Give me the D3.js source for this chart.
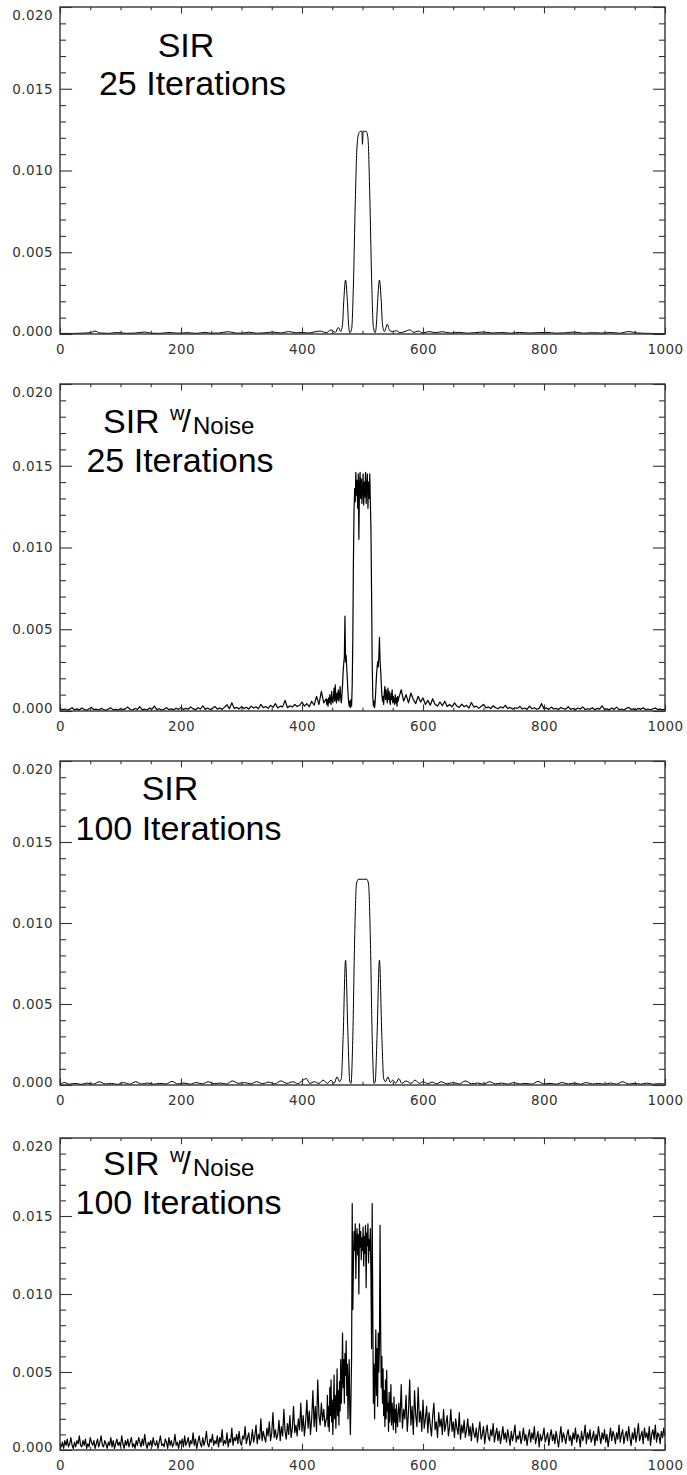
<!DOCTYPE html>
<html><head><meta charset="utf-8">
<script src="https://cdn.jsdelivr.net/npm/d3@7"></script>
<style>
html,body{margin:0;padding:0;background:#fff;}
svg{display:block;background:#fff;}
.tick text{font-family:"DejaVu Sans",sans-serif;font-size:13.5px;fill:#333;letter-spacing:0.4px;}
.title{font-family:"Liberation Sans",Arial,sans-serif;fill:#000;}
</style></head><body>
<svg id="chart" width="687" height="1475"></svg>
<script>
// ---------- data ----------
const Y_UNIT = 1e-4; // all series values below are given in units of 1e-4
const xTicks = [0, 200, 400, 600, 800, 1000];
const yTicks = [0.000, 0.005, 0.010, 0.015, 0.020];
const xMinorStep = 50;
const yMinorStep = 0.001;

// Panel 1: SIR, 25 iterations  ([x, value])
const sir25 = [[0,0.3],[10,0.4],[20,0.3],[35,0.5],[50,0.8],[58,1.8],[66,0.6],[80,0.4],[95,0.9],[110,0.4],[125,0.6],[140,1.2],[150,0.5],[165,0.4],[180,0.9],[195,0.5],[210,0.8],[225,0.4],[240,1.0],[250,0.5],[262,0.6],[278,1.4],[290,0.6],[300,0.5],[312,1.1],[325,0.5],[340,0.8],[352,1.2],[365,0.6],[378,1.5],[390,0.7],[400,1.0],[410,0.6],[420,1.2],[430,1.8],[440,0.8],[448,2.5],[455,1.0],[460,4],[464,1.5],[467,6],[469,20],[472,33],[475,20],[477,6],[479,0.8],[482,3],[485,30],[488,80],[491,115],[494,123],[497,124],[499,124],[500,116],[501,124],[503,124],[506,124],[509,120],[512,85],[515,35],[518,4],[521,0.8],[523,6],[525,20],[528,33],[531,20],[533,6],[536,1.5],[538,3],[541,6],[545,2],[550,1.5],[556,2],[562,0.8],[570,1.5],[578,2.5],[585,1.0],[592,1.8],[600,0.7],[610,1.5],[620,0.8],[632,1.4],[645,0.6],[660,1.0],[672,0.5],[685,0.8],[700,1.2],[715,0.6],[730,0.9],[745,0.5],[760,1.0],[775,0.6],[790,0.8],[805,1.0],[820,0.5],[835,0.7],[850,1.2],[865,0.5],[880,0.8],[895,0.6],[910,0.9],[925,0.5],[940,1.5],[955,0.6],[970,0.4],[985,0.3],[1000,0.3]];

// Panel 3: SIR, 100 iterations  ([x, value])
const sir100 = [[0,0.5],[8,1.5],[15,0.5],[25,1.0],[35,0.4],[45,1.2],[55,0.5],[65,2.0],[75,0.6],[85,1.0],[95,0.4],[105,1.5],[115,0.5],[125,2.0],[135,0.6],[145,1.2],[155,0.5],[165,1.0],[175,0.6],[185,2.2],[195,0.6],[205,1.2],[215,0.5],[225,1.5],[235,0.7],[245,2.0],[255,0.8],[265,1.2],[275,0.6],[285,2.5],[295,1.0],[305,1.5],[315,0.7],[325,2.0],[335,0.8],[345,1.8],[355,0.7],[365,2.5],[375,1.0],[385,2.0],[393,0.8],[400,2.5],[407,4.0],[413,1.0],[420,2.0],[428,1.0],[435,3.0],[442,1.0],[448,3.0],[453,1.0],[458,5.0],[462,2.0],[465,4],[468,30],[472,77],[476,30],[479,2],[481,1],[484,30],[487,90],[490,124],[493,127],[500,127],[507,127],[510,124],[513,90],[516,30],[519,1],[521,2],[524,30],[528,77],[532,30],[535,4],[538,2],[542,5],[546,1.5],[550,3.0],[555,1.0],[560,4.0],[565,1.0],[572,2.5],[580,1.0],[587,3.0],[594,1.0],[600,2.0],[608,0.8],[615,1.8],[623,0.7],[630,2.0],[640,0.7],[650,1.5],[660,0.6],[670,2.5],[680,0.8],[690,1.2],[700,0.6],[710,2.0],[720,0.7],[730,1.2],[740,0.5],[750,1.5],[760,0.6],[770,1.0],[780,0.5],[790,2.2],[800,0.6],[810,1.0],[820,0.5],[830,1.5],[840,0.6],[850,1.2],[860,0.5],[870,1.5],[880,0.6],[890,1.0],[900,0.5],[910,1.2],[920,0.5],[930,2.0],[940,0.6],[950,1.0],[960,0.5],[970,1.2],[980,0.5],[990,0.8],[1000,0.5]];

// Panel 2: SIR w/Noise, 25 iterations
// left part: x = 0,4,...,440 ; centre: x = 441..559 ; right part: x = 560,564,...,1000
const noise25Left = [1.5,0.8,1.2,0.5,1.0,2.0,0.7,1.3,0.6,1.8,0.9,0.5,1.4,2.2,0.8,1.1,0.6,1.6,0.9,0.4,1.2,1.9,0.7,1.0,0.5,1.5,
0.8,1.3,2.4,0.9,0.6,1.5,1.0,2.6,0.7,1.2,0.5,1.8,1.1,3.0,0.8,1.4,0.6,1.0,2.0,0.9,1.3,0.7,1.7,1.0,2.2,
0.9,1.6,1.1,2.5,1.3,0.8,2.0,1.2,3.2,1.0,1.8,0.9,1.5,2.8,1.1,1.9,1.0,2.4,3.8,1.4,5.0,1.6,2.2,1.3,2.7,
1.5,2.3,1.2,3.0,1.8,2.6,1.4,4.0,2.0,2.8,1.6,3.5,2.2,4.5,1.8,3.0,2.5,6.5,2.0,3.2,2.4,4.0,2.8,3.5,5.5,
3.0,4.5,2.6,6.0,3.5,9.0,4.0,12.0,5.0,7.5];
const noise25Center = [4,7,3,8,5,10,6,4,12,7,5,9,14,6,16,8,5,11,7,13,6,9,15,8,5,
10,16,24,29,33,58,30,34,26,19,11,6,3,6,
2,7,3,16,45,
92,122,136,128,146,132,141,124,145,105,138,146,130,142,127,135,145,126,140,131,146,127,138,145,124,140,130,145,128,110,72,
30,9,3,6,2,
6,13,21,26,30,27,33,45,31,25,17,10,6,9,4,
11,15,7,13,8,5,14,7,12,6,4,11,7,13,5,9,6,4,10,5,8,3,9,6];
const noise25Right = [8.0,13.0,6.0,10.0,5.0,11.0,7.0,4.5,9.0,5.5,8.0,4.0,6.5,3.5,7.5,4.0,3.0,5.5,3.2,6.0,2.8,4.0,2.5,5.0,3.0,
2.2,4.2,2.6,3.5,1.8,5.2,2.4,3.0,1.6,2.8,4.0,1.9,2.5,1.5,3.2,2.0,1.4,2.6,1.8,3.5,1.5,2.2,1.2,2.0,1.6,
2.8,1.2,1.8,1.0,3.0,1.4,2.0,1.1,1.6,4.5,1.3,1.9,1.0,2.4,1.2,1.6,0.9,2.2,1.4,1.1,2.6,1.0,1.5,0.8,1.8,
1.2,2.5,0.9,1.4,1.0,2.0,0.8,1.6,1.1,3.2,0.9,1.3,0.7,1.8,1.0,2.4,0.8,1.2,0.6,1.5,2.2,0.9,1.3,0.7,1.6,
1.0,2.0,0.8,1.2,0.6,1.4,1.8,0.9,1.1,0.7,1.2];

// Panel 4: SIR w/Noise, 100 iterations
// left part: x = 0,2,...,440 ; centre: x = 441..559 ; right part: x = 560,562,...,1000
const noise100Left = [4,2,5,1,6,3,7,2,4,8,3,1,5,2,6,4,9,3,2,6,
3,7,1,4,2,8,5,3,6,1,4,7,2,5,9,3,2,6,4,1,
5,3,8,2,6,1,4,7,3,5,2,9,4,1,6,3,7,2,5,8,
2,4,1,6,3,8,5,2,7,3,10,4,1,5,3,6,2,8,4,3,
6,1,5,9,3,4,2,7,5,1,8,3,6,2,4,10,3,5,1,6,
4,7,2,9,3,5,8,2,6,4,11,3,7,1,5,9,4,2,8,3,
6,12,4,2,7,5,10,3,6,4,9,2,8,5,13,3,6,4,11,2,
7,5,14,3,8,6,10,4,12,5,3,9,7,15,4,8,11,3,6,13,
5,9,16,4,10,7,20,6,12,8,5,14,9,18,6,11,24,8,13,7,
10,19,6,15,9,26,12,7,17,10,22,8,14,28,11,16,9,20,13,30,
12,22,9,18,32,14,25,10,20,38,15,28,12,45,22,16,30,19,26,15,
20];
const noise100Center = [20,35,15,28,12,40,22,45,18,32,10,26,48,20,35,14,30,52,22,38,16,44,25,58,30,
45,75,40,58,30,62,48,70,35,55,20,42,58,25,
10,35,60,158,90,
120,140,128,145,110,135,142,125,138,100,145,130,140,122,136,128,143,118,137,126,144,104,139,131,145,120,135,128,142,110,65,
158,90,30,55,20,
48,77,35,65,28,75,50,68,144,77,40,60,30,52,22,
38,15,45,20,51,25,30,12,37,18,28,42,16,30,22,13,34,18,26,11,29,20,15,24];
const noise100Right = [30,18,42,14,26,20,35,12,24,45,16,28,10,38,22,15,40,18,25,12,
32,14,20,28,11,24,16,9,22,30,13,18,8,24,15,20,10,26,12,17,
22,9,15,26,12,18,8,20,14,10,24,7,16,11,19,8,13,20,9,15,
6,17,11,8,14,5,12,18,7,10,15,4,11,16,8,6,13,9,17,5,
10,14,6,12,4,9,15,7,11,5,13,8,3,12,6,10,16,5,9,7,
12,4,8,14,6,10,3,9,13,5,11,7,15,4,8,12,2,10,6,9,
14,5,8,11,3,9,13,6,10,4,12,7,2,9,15,5,11,8,4,10,
13,6,9,3,11,7,14,5,10,8,2,12,6,9,16,4,11,7,13,5,
8,12,3,10,6,15,9,4,11,7,13,5,10,2,8,14,6,12,9,4,
11,7,16,5,10,13,4,9,12,6,15,8,3,11,7,14,5,10,17,6,
9,12,4,14,8,11,6,15,3,10,13,7,16,5,11,9,4,12,8,14,
9];

const titleSIR = "SIR";
const titleW = "w";
const titleSlash = "/";
const titleNoise = "Noise";
const titleIter = ["25 Iterations", "25 Iterations", "100 Iterations", "100 Iterations"];

// ---------- helpers ----------
function sampled(left, center, right, step) {
  const pts = [];
  left.forEach((v, i) => pts.push([i * step, v]));
  center.forEach((v, i) => pts.push([441 + i, v]));
  right.forEach((v, i) => pts.push([560 + i * step, v]));
  return pts;
}

// ---------- layout ----------
const L = 60, R = 665;
const panels = [
  { top: 7,    bottom: 334,  data: sir25,  curve: d3.curveMonotoneX, noise: false, sw: 1,
    t1: {x: 186, y: 50}, t2: {x: 192.5, y: 88} },
  { top: 384,  bottom: 711,  data: sampled(noise25Left, noise25Center, noise25Right, 4), curve: d3.curveLinear, noise: true, sw: 1.2,
    t1: {x: 103, y: 49}, t2: {x: 180, y: 88} },
  { top: 761,  bottom: 1085, data: sir100, curve: d3.curveMonotoneX, noise: false, sw: 1,
    t1: {x: 170, y: 39}, t2: {x: 178.5, y: 79} },
  { top: 1138, bottom: 1450, data: sampled(noise100Left, noise100Center, noise100Right, 2), curve: d3.curveLinear, noise: true, sw: 1.2,
    t1: {x: 103, y: 37}, t2: {x: 178.5, y: 76} }
];

const svg = d3.select("#chart");
const xMinor = d3.range(0, 1000 + 1e-9, xMinorStep).filter(v => !xTicks.includes(v));
const yMinor = d3.range(0, 0.020 + 1e-9, yMinorStep).map(v => +v.toFixed(3)).filter(v => !yTicks.some(t => Math.abs(t - v) < 1e-9));

panels.forEach((p, i) => {
  const x = d3.scaleLinear().domain([0, 1000]).range([L, R]);
  const y = d3.scaleLinear().domain([0, 0.020]).range([p.bottom, p.top]);
  const h = p.bottom - p.top, w = R - L;
  const xMajLen = 0.02 * h, xMinLen = 0.01 * h;
  const yMajLen = 0.02 * w, yMinLen = 0.01 * w;
  const g = svg.append("g");

  // data line
  const line = d3.line().x(d => x(d[0])).y(d => y(d[1] * Y_UNIT)).curve(p.curve);
  g.append("path").datum(p.data).attr("d", line)
    .attr("fill", "none").attr("stroke", "#000")
    .attr("stroke-width", p.sw).attr("stroke-linejoin", "round");

  // axes (ticks point inward)
  const axes = [];
  axes.push(g.append("g").attr("transform", `translate(0,${p.bottom})`)
    .call(d3.axisBottom(x).tickValues(xTicks).tickSizeInner(-xMajLen).tickSizeOuter(0).tickPadding(10.4).tickFormat(d3.format("d"))));
  axes.push(g.append("g").attr("transform", `translate(0,${p.bottom})`)
    .call(d3.axisBottom(x).tickValues(xMinor).tickSizeInner(-xMinLen).tickSizeOuter(0).tickFormat("")));
  axes.push(g.append("g").attr("transform", `translate(0,${p.top})`)
    .call(d3.axisTop(x).tickValues(xTicks).tickSizeInner(-xMajLen).tickSizeOuter(0).tickFormat("")));
  axes.push(g.append("g").attr("transform", `translate(0,${p.top})`)
    .call(d3.axisTop(x).tickValues(xMinor).tickSizeInner(-xMinLen).tickSizeOuter(0).tickFormat("")));
  const left = g.append("g").attr("transform", `translate(${L},0)`)
    .call(d3.axisLeft(y).tickValues(yTicks).tickSizeInner(-yMajLen).tickSizeOuter(0).tickPadding(7).tickFormat(d3.format(".3f")));
  axes.push(left);
  axes.push(g.append("g").attr("transform", `translate(${L},0)`)
    .call(d3.axisLeft(y).tickValues(yMinor).tickSizeInner(-yMinLen).tickSizeOuter(0).tickFormat("")));
  axes.push(g.append("g").attr("transform", `translate(${R},0)`)
    .call(d3.axisRight(y).tickValues(yTicks).tickSizeInner(-yMajLen).tickSizeOuter(0).tickFormat("")));
  axes.push(g.append("g").attr("transform", `translate(${R},0)`)
    .call(d3.axisRight(y).tickValues(yMinor).tickSizeInner(-yMinLen).tickSizeOuter(0).tickFormat("")));

  axes.forEach(a => {
    a.select(".domain").remove();
    a.selectAll(".tick line").attr("stroke", "#333").attr("stroke-width", 1.1);
    a.attr("font-family", null).attr("font-size", null);
  });
  // keep the end labels inside the frame like the original
  left.selectAll(".tick").each(function(d) {
    const ty = y(d);
    const cy = Math.min(Math.max(ty, p.top + 8), p.bottom - 3);
    d3.select(this).select("text").attr("y", cy - ty);
  });

  // frame
  g.append("rect").attr("x", L).attr("y", p.top).attr("width", w).attr("height", h)
    .attr("fill", "none").attr("stroke", "#333").attr("stroke-width", 1.4);

  // titles
  const top = p.top;
  if (!p.noise) {
    g.append("text").attr("class", "title").attr("x", p.t1.x).attr("y", top + p.t1.y)
      .attr("text-anchor", "middle").attr("font-size", 34).text(titleSIR);
  } else {
    g.append("text").attr("class", "title").attr("x", p.t1.x).attr("y", top + p.t1.y)
      .attr("font-size", 34).text(titleSIR);
    g.append("text").attr("class", "title").attr("x", p.t1.x + 67).attr("y", top + p.t1.y - 13)
      .attr("font-size", 20).text(titleW);
    g.append("text").attr("class", "title").attr("x", p.t1.x + 79).attr("y", top + p.t1.y - 1)
      .attr("font-size", 32).text(titleSlash);
    g.append("text").attr("class", "title").attr("x", p.t1.x + 90).attr("y", top + p.t1.y + 1)
      .attr("font-size", 24).text(titleNoise);
  }
  g.append("text").attr("class", "title").attr("x", p.t2.x).attr("y", top + p.t2.y)
    .attr("text-anchor", "middle").attr("font-size", 34).text(titleIter[i]);
});
</script>
</body></html>
